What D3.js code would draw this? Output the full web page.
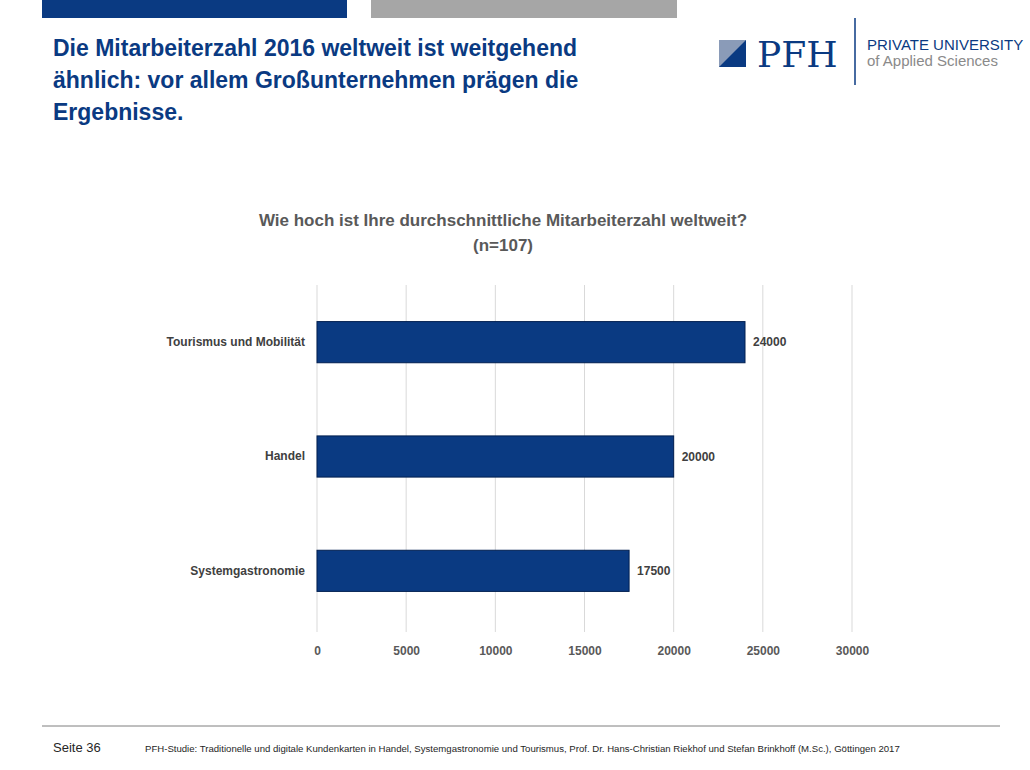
<!DOCTYPE html>
<html><head><meta charset="utf-8">
<script src="https://cdn.jsdelivr.net/npm/d3@7"></script>
<style>body{margin:0;background:#fff;font-family:Arial,"Liberation Sans",sans-serif}</style>
</head><body><div id="chart"></div>
<script>
// data
var categories = ["Tourismus und Mobilität", "Handel", "Systemgastronomie"];
var values = [24000, 20000, 17500];
var ticks = [0, 5000, 10000, 15000, 20000, 25000, 30000];

var svg = d3.select("#chart").append("svg").attr("width", 1030).attr("height", 770);

// top bars
svg.append("rect").attr("x", 42).attr("y", 0).attr("width", 305).attr("height", 18).attr("fill", "#0a3a82");
svg.append("rect").attr("x", 371).attr("y", 0).attr("width", 306).attr("height", 18).attr("fill", "#a6a6a6");

// title
var title = ["Die Mitarbeiterzahl 2016 weltweit ist weitgehend", "ähnlich: vor allem Großunternehmen prägen die", "Ergebnisse."];
svg.append("g").selectAll("text").data(title).enter().append("text")
  .attr("x", 53).attr("y", (d, i) => 56 + i * 32)
  .attr("font-size", 23).attr("font-weight", "bold").attr("fill", "#0a3a82").text(d => d);

// logo
svg.append("rect").attr("x", 719).attr("y", 40).attr("width", 27).attr("height", 27).attr("fill", "#8a9bb8");
svg.append("path").attr("d", "M719,67 L746,40 L746,67 Z").attr("fill", "#0a3a82");
svg.append("text").attr("x", 757).attr("y", 67).attr("font-family", "'DejaVu Serif',serif").attr("font-size", 36).attr("fill", "#0a3a82").text("PFH");
svg.append("line").attr("x1", 855).attr("x2", 855).attr("y1", 18).attr("y2", 85).attr("stroke", "#0a3a82").attr("stroke-width", 1.5);
svg.append("text").attr("x", 867).attr("y", 50).attr("font-size", 15).attr("fill", "#0a3a82").text("PRIVATE UNIVERSITY");
svg.append("text").attr("x", 867).attr("y", 66).attr("font-size", 15).attr("fill", "#8a8a8a").text("of Applied Sciences");

// chart title
svg.append("text").attr("x", 503).attr("y", 226).attr("text-anchor", "middle").attr("font-size", 17).attr("font-weight", "bold").attr("fill", "#595959").text("Wie hoch ist Ihre durchschnittliche Mitarbeiterzahl weltweit?");
svg.append("text").attr("x", 503).attr("y", 251).attr("text-anchor", "middle").attr("font-size", 17).attr("font-weight", "bold").attr("fill", "#595959").text("(n=107)");

var x = d3.scaleLinear().domain([0, 30000]).range([317, 852]);
var y = d3.scaleBand().domain(categories).range([285, 628]).paddingInner(0.64).paddingOuter(0.32);

// grid
svg.append("g").selectAll("line").data(ticks).enter().append("line")
  .attr("x1", d => x(d)).attr("x2", d => x(d)).attr("y1", 285).attr("y2", 632)
  .attr("stroke", "#d9d9d9");

var xAxis = svg.append("g").attr("transform", "translate(0,632)")
  .call(d3.axisBottom(x).tickValues(ticks).tickSize(0).tickPadding(14).tickFormat(d3.format("d")));
xAxis.select(".domain").remove();
xAxis.selectAll("text").attr("font-size", 12).attr("font-weight", "bold").attr("fill", "#595959").attr("font-family", "Arial,'Liberation Sans',sans-serif");

var yAxis = svg.append("g").attr("transform", "translate(317,0)")
  .call(d3.axisLeft(y).tickSize(0).tickPadding(12));
yAxis.select(".domain").remove();
yAxis.selectAll("text").attr("font-size", 12).attr("font-weight", "bold").attr("fill", "#404040").attr("font-family", "Arial,'Liberation Sans',sans-serif");

svg.append("g").selectAll("rect").data(values).enter().append("rect")
  .attr("x", x(0)).attr("y", (d, i) => y(categories[i]))
  .attr("width", d => x(d) - x(0)).attr("height", y.bandwidth())
  .attr("fill", "#0a3a82").attr("stroke", "#001f50");

svg.append("g").selectAll("text").data(values).enter().append("text")
  .attr("x", d => x(d) + 8).attr("y", (d, i) => y(categories[i]) + y.bandwidth() / 2 + 4)
  .attr("font-size", 12).attr("font-weight", "bold").attr("fill", "#404040").text(d => d);

// footer
svg.append("line").attr("x1", 42).attr("x2", 1000).attr("y1", 726).attr("y2", 726).attr("stroke", "#7f7f7f");
svg.append("text").attr("x", 53).attr("y", 752).attr("font-size", 13).attr("fill", "#262626").text("Seite 36");
svg.append("text").attr("x", 145).attr("y", 752).attr("font-size", 9.6).attr("fill", "#262626")
  .text("PFH-Studie: Traditionelle und digitale Kundenkarten in Handel, Systemgastronomie und Tourismus, Prof. Dr. Hans-Christian Riekhof und Stefan Brinkhoff (M.Sc.), Göttingen 2017");
</script></body></html>
